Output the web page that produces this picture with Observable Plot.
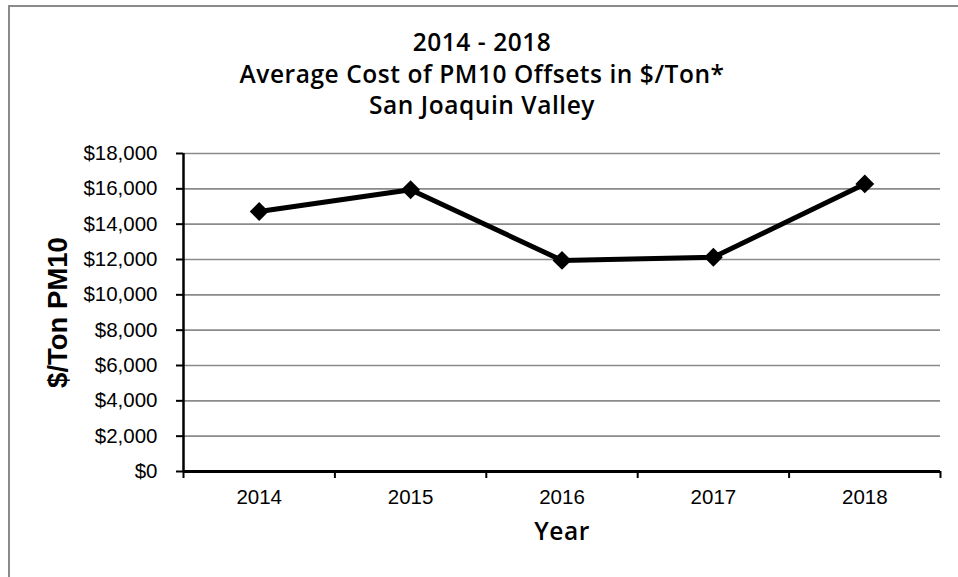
<!DOCTYPE html>
<html>
<head>
<meta charset="utf-8">
<script src="https://cdn.jsdelivr.net/npm/d3@7"></script>
<script src="https://cdn.jsdelivr.net/npm/@observablehq/plot@0.6"></script>
<style>
  html, body { margin: 0; padding: 0; background: #fff; overflow: hidden; }
  #wrap { position: relative; width: 958px; height: 577px; }
  #box { position: absolute; left: 8px; top: 5px; width: 1000px; height: 1000px;
         border-left: 2px solid #8a8a8a; border-top: 2px solid #8a8a8a; box-sizing: border-box; }
  #chart { position: absolute; left: 0; top: 0; }
</style>
</head>
<body>
<div id="wrap"><div id="box"></div><div id="chart"></div></div>
<script>
const years = [2014, 2015, 2016, 2017, 2018];
const costs = [14720, 15950, 11950, 12130, 16280];
const yTicks = [0, 2000, 4000, 6000, 8000, 10000, 12000, 14000, 16000, 18000];
const titleLines = ["2014 - 2018", "Average Cost of PM10 Offsets in $/Ton*", "San Joaquin Valley"];
const yLabel = "$/Ton PM10";
const xLabel = "Year";

const data = years.map((y, i) => ({year: y, cost: costs[i]}));
const bounds = [years[0] - 0.5, ...years.map(y => y + 0.5)];
const titleFont = "'Open Sans', 'Noto Sans', sans-serif";
const axisFont = "'Liberation Sans', Arial, sans-serif";

const chart = Plot.plot({
  width: 958,
  height: 577,
  marginLeft: 183,
  marginRight: 18,
  marginTop: 153,
  marginBottom: 106,
  style: {background: "transparent", fontFamily: axisFont, fontSize: "20.5px", color: "#000"},
  x: {domain: [bounds[0], bounds[bounds.length - 1]]},
  y: {domain: [0, 18000]},
  marks: [
    Plot.gridY(yTicks, {stroke: "#8a8a8a", strokeOpacity: 1, strokeWidth: 1.6}),
    Plot.axisY({ticks: yTicks, tickSize: 7, tickPadding: 19, tickFormat: d3.format("$,"),
                fontSize: 20.5, strokeWidth: 2, stroke: "#000", label: null}),
    Plot.axisX({ticks: years, tickSize: 0, tickPadding: 18, tickFormat: d => String(d),
                fontSize: 20.5, label: null}),
    Plot.axisX({ticks: bounds, tickSize: 7, tickFormat: () => "", strokeWidth: 2, stroke: "#000", label: null}),
    Plot.ruleX([bounds[0]], {stroke: "#000", strokeWidth: 2.5}),
    Plot.ruleY([0], {stroke: "#000", strokeWidth: 3}),
    Plot.line(data, {x: "year", y: "cost", stroke: "#000", strokeWidth: 5, strokeLinejoin: "miter"}),
    Plot.dot(data, {x: "year", y: "cost", symbol: "diamond2", r: 8.5, fill: "#000", stroke: "none"}),
    Plot.text([titleLines.join("\n")], {frameAnchor: "top", lineAnchor: "top", textAnchor: "middle",
      dx: -80, dy: -125, fontSize: 24.5, fontWeight: 600, fontFamily: titleFont, lineHeight: 1.29, fill: "#000"}),
    Plot.text([yLabel], {frameAnchor: "left", rotate: -90, textAnchor: "middle", lineAnchor: "middle",
      dx: -125, fontSize: 27.5, fontWeight: "bold", fontFamily: axisFont, fill: "#000"}),
    Plot.text([xLabel], {frameAnchor: "bottom", lineAnchor: "top", textAnchor: "middle",
      dy: 51, fontSize: 24.5, fontWeight: 600, fontFamily: titleFont, fill: "#000"})
  ]
});
chart.querySelectorAll('g[aria-label="text"]').forEach(g => {
  const ff = g.getAttribute("font-family") || "";
  if (ff.includes("Open Sans")) g.style.letterSpacing = "0.55px";
});
document.getElementById("chart").appendChild(chart);
</script>
</body>
</html>
